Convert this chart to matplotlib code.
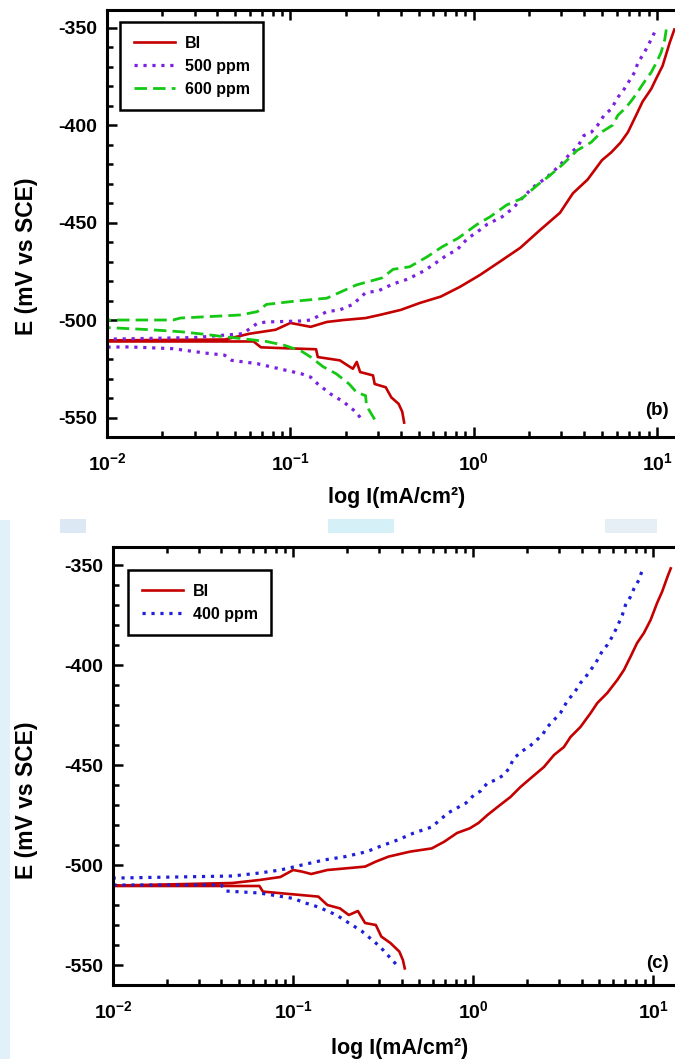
"""
Kurva polarisasi Tafel: panel (b) BI / 500 ppm / 600 ppm, panel (c) BI / 400 ppm
"""

import math
import matplotlib
matplotlib.use('Agg')
import matplotlib.pyplot as plt
from matplotlib.ticker import MultipleLocator, FuncFormatter
from matplotlib.patches import Rectangle

plt.rcParams['font.family'] = ['Liberation Sans', 'DejaVu Sans']
plt.rcParams['font.weight'] = 'bold'
plt.rcParams['axes.unicode_minus'] = False
plt.rcParams['mathtext.fontset'] = 'custom'
plt.rcParams['mathtext.rm'] = 'Liberation Sans:bold'
plt.rcParams['mathtext.default'] = 'rm'

# ---------------- panel (b) ----------------
# BI (blanko), cabang katodik dari Ecorr ke luar
bi_b_cat_i = [0.008, 0.063, 0.069, 0.083, 0.138, 0.141, 0.186, 0.219, 0.23, 0.24,
              0.282, 0.288, 0.331, 0.355, 0.389, 0.407, 0.417]
bi_b_cat_e = [-511, -511, -514, -514.3, -515, -519, -520.7, -525, -521.5, -526.7,
              -528.4, -532.8, -534.5, -539.7, -543, -547, -552.6]
# BI cabang anodik
bi_b_an_i = [0.008, 0.044, 0.06, 0.083, 0.10, 0.129, 0.158, 0.195, 0.257, 0.31,
             0.40, 0.51, 0.66, 0.84, 1.08, 1.39, 1.79, 2.30, 2.95, 3.47,
             4.17, 5.0, 5.62, 6.31, 6.92, 7.67, 8.32, 9.27, 9.89, 10.7,
             11.7, 12.4]
bi_b_an_e = [-510.5, -510, -507, -505, -501.5, -503.5, -501, -500, -499, -497.3,
             -494.8, -491.2, -488, -483, -476.9, -470, -463, -453.8, -445, -435,
             -428, -418, -414, -409, -403.7, -395, -388, -381.5, -376, -369.6,
             -357.7, -351]

# 500 ppm
p500_cat_i = [0.008, 0.0132, 0.0229, 0.0347, 0.0437, 0.0479, 0.066, 0.087, 0.115,
              0.129, 0.141, 0.166, 0.195, 0.229, 0.24]
p500_cat_e = [-514, -513.8, -514.7, -517, -518, -520.7, -522.4, -525, -527.6,
              -529.3, -532.8, -538, -542, -547.4, -550]
p500_an_i = [0.008, 0.03, 0.055, 0.066, 0.074, 0.115, 0.129, 0.158, 0.186, 0.219,
             0.257, 0.302, 0.363, 0.437, 0.53, 0.60, 0.716, 0.81, 0.92, 1.08,
             1.18, 1.43, 1.64, 1.79, 2.11, 2.51, 2.95, 3.36, 3.69, 3.98,
             4.37, 4.74, 5.13, 5.62, 6.10, 6.61, 7.08, 7.52, 7.85, 8.51,
             9.08, 9.66]
p500_an_e = [-510, -509, -507, -501.7, -501, -500.5, -500, -495.7, -494.8, -492,
             -486, -485, -481.5, -479, -475, -471.7, -466.6, -464, -458.4, -453.8,
             -451, -447, -442.6, -438.5, -431.8, -426.7, -420.6, -414.5, -411, -405.4,
             -403.7, -400, -395, -391.7, -385.8, -381.5, -377, -373, -368, -362.8,
             -357.7, -352.6]

# 600 ppm
p600_cat_i = [0.008, 0.0174, 0.0251, 0.0347, 0.0437, 0.0537, 0.074, 0.093, 0.115,
              0.129, 0.151, 0.178, 0.209, 0.229, 0.257, 0.26, 0.288]
p600_cat_e = [-503.4, -505, -506, -507.4, -508.6, -509.5, -511, -513, -516,
              -519, -524, -527.6, -532.8, -537, -538.8, -544, -551]
p600_an_i = [0.008, 0.0229, 0.0251, 0.0537, 0.066, 0.074, 0.102, 0.158, 0.229, 0.316,
             0.363, 0.447, 0.556, 0.671, 0.822, 1.04, 1.23, 1.51, 1.84, 2.22,
             2.61, 3.02, 3.66, 4.37, 4.95, 5.73, 6.10, 6.76, 7.36, 8.02,
             8.71, 9.27, 9.89, 10.5, 11.0, 11.2]
p600_an_e = [-500, -500, -499, -497.4, -495.7, -492, -490.5, -488.8, -482, -478.4,
             -474, -472.7, -467.6, -462.5, -458, -451, -447, -441, -437.5, -430.8,
             -425.7, -420.6, -413, -408.8, -403.7, -400, -395, -391, -386.6, -381.5,
             -376.4, -373, -368, -362.8, -356, -351]

# ---------------- panel (c) ----------------
bi_c_cat_i = [0.008, 0.065, 0.068, 0.138, 0.155, 0.182, 0.204, 0.229, 0.251, 0.288,
              0.309, 0.347, 0.389, 0.407, 0.417]
bi_c_cat_e = [-510.5, -510.5, -513.3, -515.8, -520, -521.7, -525, -523, -529, -530,
              -535.8, -539, -543.3, -547.5, -551.7]
bi_c_an_i = [0.008, 0.046, 0.065, 0.085, 0.10, 0.112, 0.126, 0.155, 0.195, 0.251,
             0.288, 0.339, 0.447, 0.589, 0.692, 0.813, 0.955, 1.07, 1.20, 1.41,
             1.61, 1.83, 2.08, 2.47, 2.81, 3.19, 3.47, 3.94, 4.49, 4.89,
             5.55, 6.31, 6.87, 7.48, 8.13, 8.87, 9.66, 10.5, 11.2, 12.0,
             12.5]
bi_c_an_e = [-510.5, -509, -507.5, -506, -502.5, -503.3, -504.5, -502.5, -501.7, -500.8,
             -498.3, -495.8, -493.3, -491.7, -488.3, -484, -481.7, -479, -475, -470,
             -466, -461, -456.7, -451, -445, -441, -436, -431, -424, -419,
             -414, -407.5, -402.5, -395.8, -389, -384, -377.5, -369, -363.3, -355.8,
             -351.7]

# 400 ppm
p400_cat_i = [0.008, 0.04, 0.042, 0.065, 0.10, 0.117, 0.138, 0.174, 0.204, 0.24,
              0.288, 0.316, 0.355, 0.372]
p400_cat_e = [-510, -510, -513, -514, -516.7, -519, -521, -525, -529, -533,
              -539, -542.5, -547.5, -549.5]
p400_an_i = [0.008, 0.046, 0.065, 0.085, 0.112, 0.148, 0.195, 0.257, 0.302, 0.38,
             0.468, 0.589, 0.724, 0.912, 1.01, 1.10, 1.20, 1.33, 1.48, 1.58,
             1.68, 1.87, 2.04, 2.22, 2.42, 2.58, 2.81, 3.05, 3.33, 3.55,
             3.78, 3.94, 4.21, 4.49, 4.79, 5.21, 5.55, 5.92, 6.31, 6.73,
             7.01, 7.48, 7.82, 8.32, 8.69]
p400_an_e = [-506.7, -505.5, -504, -502.5, -500, -497.5, -495.8, -493.3, -490.8, -487.5,
             -484, -481, -474, -469, -465, -463, -459, -457.5, -455, -451.7,
             -446.7, -443, -441, -438, -435, -431, -427.5, -424, -418, -415,
             -411.7, -409, -406, -402.5, -399, -393, -390, -385.8, -380.8, -375,
             -370, -365.8, -361.7, -357.5, -352.5]

RED = '#c40000'
PURPLE = '#7b22e0'
GREEN = '#14c814'
BLUE = '#1f1fd8'


def join_branches(cat_i, cat_e, an_i, an_e):
    """Gabungkan katodik (dibalik) + anodik jadi satu kurva"""
    return list(cat_i[::-1]) + list(an_i), list(cat_e[::-1]) + list(an_e)


def style_axes(ax, xmax):
    ax.set_xscale('log')
    ax.set_xlim(0.01, xmax)
    ax.set_ylim(-560, -341)
    ax.yaxis.set_major_locator(MultipleLocator(50))
    ax.yaxis.set_minor_locator(MultipleLocator(10))
    ax.xaxis.set_major_formatter(FuncFormatter(lambda v, p: r'$10^{%d}$' % round(math.log10(v))))
    ax.tick_params(which='both', direction='in', top=True, right=False, width=1.8)
    ax.tick_params(which='major', length=7, labelsize=14, pad=7)
    ax.tick_params(which='minor', length=4)
    ax.tick_params(axis='x', which='major', pad=11)
    for lbl in ax.get_yticklabels():
        lbl.set_fontweight('bold')
    for s in ['left', 'top', 'bottom']:
        ax.spines[s].set_linewidth(2.2)
    ax.spines['right'].set_visible(False)
    ax.set_xlabel('log I(mA/cm²)', fontsize=15.5, fontweight='bold')
    ax.set_ylabel('E (mV vs SCE)', fontsize=16.5, fontweight='bold')


def add_legend(ax, anchor):
    leg = ax.legend(loc='upper left', bbox_to_anchor=anchor, borderaxespad=0,
                    prop={'size': 11.5, 'weight': 'bold'}, handlelength=2.6,
                    handletextpad=0.6, fancybox=False, framealpha=1,
                    edgecolor='black', labelspacing=0.5, borderpad=0.85)
    leg.get_frame().set_linewidth(1.8)


fig = plt.figure(figsize=(6.75, 10.59), dpi=100)

# artefak latar biru muda dari gambar sumber
for (x0, y0, w, h, c) in [(0, 520, 10, 539, '#e2f0f9'), (60, 519, 26, 14, '#dce9f4'),
                          (328, 519, 66, 14, '#d6f0f8'), (605, 519, 52, 14, '#e6eef6')]:
    fig.add_artist(Rectangle((x0 / 675, 1 - (y0 + h) / 1059), w / 675, h / 1059,
                             transform=fig.transFigure, color=c, lw=0, zorder=0))

ax1 = fig.add_axes([107 / 675, 1 - 437 / 1059, 568 / 675, 427 / 1059])
ax2 = fig.add_axes([113 / 675, 1 - 985 / 1059, 562 / 675, 438 / 1059])

# panel (b)
x, y = join_branches(bi_b_cat_i, bi_b_cat_e, bi_b_an_i, bi_b_an_e)
ax1.plot(x, y, color=RED, lw=1.9, label='BI')
x, y = join_branches(p500_cat_i, p500_cat_e, p500_an_i, p500_an_e)
ax1.plot(x, y, color=PURPLE, lw=2.3, linestyle=(0, (1, 1.8)), label='500 ppm')
x, y = join_branches(p600_cat_i, p600_cat_e, p600_an_i, p600_an_e)
ax1.plot(x, y, color=GREEN, lw=2.0, linestyle=(0, (4.5, 2.2)), label='600 ppm')
style_axes(ax1, 12.5)
ax1.xaxis.set_label_coords(0.51, -0.117)
ax1.yaxis.set_label_coords(-0.121, 0.424)
ax1.text(0.968, 0.063, '(b)', transform=ax1.transAxes, ha='center', va='center',
         fontsize=13.5, fontweight='bold')
add_legend(ax1, (0.023, 0.972))

# panel (c)
x, y = join_branches(bi_c_cat_i, bi_c_cat_e, bi_c_an_i, bi_c_an_e)
ax2.plot(x, y, color=RED, lw=1.9, label='BI')
x, y = join_branches(p400_cat_i, p400_cat_e, p400_an_i, p400_an_e)
ax2.plot(x, y, color=BLUE, lw=2.3, linestyle=(0, (1, 1.8)), label='400 ppm')
style_axes(ax2, 13.2)
ax2.xaxis.set_label_coords(0.51, -0.122)
ax2.yaxis.set_label_coords(-0.133, 0.422)
ax2.text(0.968, 0.05, '(c)', transform=ax2.transAxes, ha='center', va='center',
         fontsize=13.5, fontweight='bold')
add_legend(ax2, (0.027, 0.947))

fig.savefig('out.png', dpi=100)
